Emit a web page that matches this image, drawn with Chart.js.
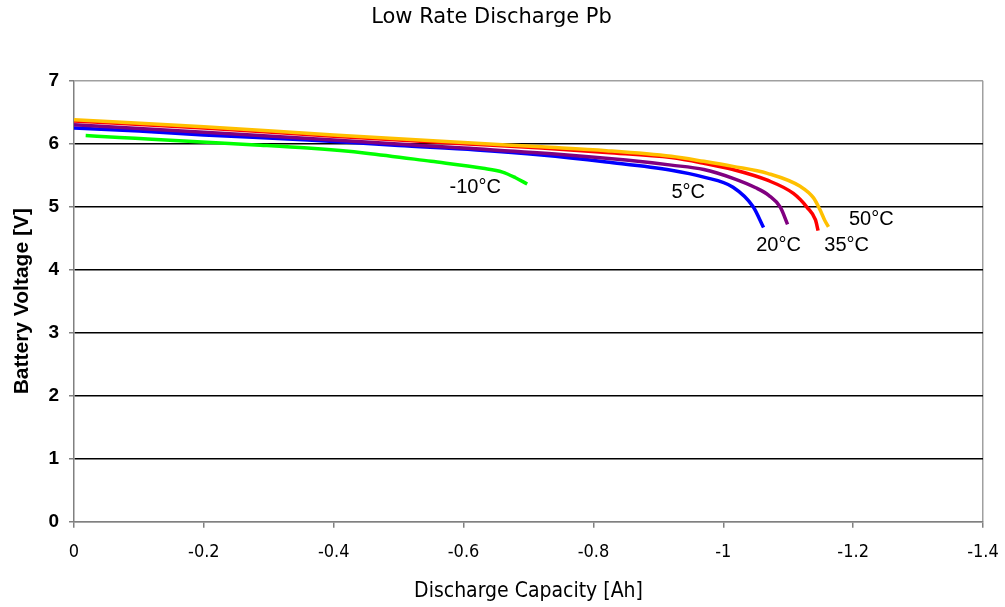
<!DOCTYPE html>
<html>
<head>
<meta charset="utf-8">
<script src="https://cdn.jsdelivr.net/npm/chart.js@4.4.1/dist/chart.umd.min.js"></script>
<style>
  html, body { margin: 0; padding: 0; background: #ffffff; }
  #wrap { width: 1005px; height: 607px; position: relative; }
</style>
</head>
<body>
<div id="wrap"><canvas id="c" width="1005" height="607"></canvas></div>
<script>
// ---- Data (discharge capacity in Ah, voltage in V) ----
const cap50 = [0, -0.2, -0.4, -0.6, -0.72, -0.82, -0.92, -0.97, -1.015, -1.068, -1.119, -1.139, -1.149, -1.156, -1.162];
const volt50 = [6.38, 6.27, 6.14, 6.02, 5.95, 5.89, 5.80, 5.72, 5.64, 5.53, 5.32, 5.14, 4.95, 4.79, 4.68];

const cap35 = [0, -0.2, -0.4, -0.6, -0.72, -0.82, -0.92, -0.97, -1.015, -1.068, -1.108, -1.129, -1.142, -1.146];
const volt35 = [6.36, 6.25, 6.12, 6.00, 5.93, 5.86, 5.78, 5.69, 5.59, 5.42, 5.21, 4.99, 4.79, 4.62];

const cap20 = [0, -0.2, -0.4, -0.6, -0.75, -0.85, -0.92, -0.97, -1.015, -1.05, -1.07, -1.088, -1.099];
const volt20 = [6.30, 6.18, 6.06, 5.93, 5.83, 5.74, 5.66, 5.59, 5.45, 5.30, 5.18, 4.99, 4.72];

const cap5 = [0, -0.1, -0.2, -0.36, -0.5, -0.62, -0.72, -0.82, -0.92, -0.97, -1.015, -1.046, -1.062];
const volt5 = [6.25, 6.20, 6.14, 6.06, 5.97, 5.90, 5.82, 5.71, 5.58, 5.47, 5.31, 5.00, 4.67];

const capM10 = [-0.018, -0.07, -0.12, -0.19, -0.28, -0.36, -0.45, -0.55, -0.63, -0.66, -0.68, -0.698];
const voltM10 = [6.13, 6.10, 6.07, 6.03, 5.98, 5.93, 5.85, 5.72, 5.61, 5.55, 5.46, 5.36];

const seriesNames = ['50°C', '35°C', '20°C', '5°C', '-10°C'];
const xTickValues = [0, -0.2, -0.4, -0.6, -0.8, -1, -1.2, -1.4];
const yTickValues = [0, 1, 2, 3, 4, 5, 6, 7];

// curve labels (text, capacity, voltage)
const labelText = ['-10°C', '5°C', '20°C', '35°C', '50°C'];
const labelCap = [-0.618, -0.946, -1.085, -1.190, -1.228];
const labelVolt = [5.30, 5.22, 4.38, 4.38, 4.79];

function pts(xs, ys) { return xs.map((x, i) => ({ x: x, y: ys[i] })); }

const colors = ['#FFC000', '#FF0000', '#800080', '#0000FF', '#00FF00'];
const caps = [cap50, cap35, cap20, cap5, capM10];
const volts = [volt50, volt35, volt20, volt5, voltM10];

const datasets = seriesNames.map((n, i) => ({
  label: n,
  data: pts(caps[i], volts[i]),
  borderColor: colors[i],
  backgroundColor: colors[i],
  borderWidth: 3.5,
  pointRadius: 0,
  fill: false,
  cubicInterpolationMode: 'monotone',
  order: i
}));

const curveLabels = {
  id: 'curveLabels',
  afterDatasetsDraw(chart) {
    const ctx = chart.ctx;
    const xs = chart.scales.x, ys = chart.scales.y;
    ctx.save();
    ctx.fillStyle = '#000000';
    ctx.font = '20px "Liberation Sans", Arial, sans-serif';
    ctx.textAlign = 'center';
    ctx.textBaseline = 'middle';
    labelText.forEach((t, i) => {
      ctx.fillText(t, xs.getPixelForValue(labelCap[i]), ys.getPixelForValue(labelVolt[i]));
    });
    ctx.restore();
  }
};

new Chart(document.getElementById('c'), {
  type: 'line',
  data: { datasets: datasets },
  plugins: [curveLabels],
  options: {
    responsive: false,
    animation: false,
    layout: { padding: { left: 0, right: 22, top: 0, bottom: 0 } },
    plugins: {
      legend: { display: false },
      tooltip: { enabled: false },
      title: {
        display: true,
        text: 'Low Rate Discharge Pb',
        color: '#000000',
        font: { family: '"DejaVu Sans", sans-serif', size: 21, weight: 'normal', lineHeight: 1.2 },
        padding: { top: 5, bottom: 50.5 }
      }
    },
    scales: {
      x: {
        type: 'linear',
        reverse: true,
        min: -1.4,
        max: 0,
        afterFit(scale) { scale.height = 85.3; scale.paddingLeft = 0; scale.paddingRight = 0; },
        afterBuildTicks(scale) { scale.ticks = xTickValues.map(v => ({ value: v })); },
        ticks: {
          color: '#000000',
          font: { family: '"Liberation Sans Narrow", "DejaVu Sans Condensed", sans-serif', size: 18 },
          padding: 14,
          maxRotation: 0,
          autoSkip: false,
          callback: v => (Math.abs(v) < 1e-9 ? '0' : String(Number(v.toFixed(1))))
        },
        grid: {
          drawOnChartArea: true,
          tickLength: 6,
          color: ctx => (ctx.tick && Math.abs(ctx.tick.value + 1.4) < 1e-6 ? '#a0a0a0' : 'rgba(0,0,0,0)'),
          tickColor: '#808080',
          lineWidth: 1.5
        },
        border: { display: true, color: '#808080', width: 1.5 },
        title: {
          display: true,
          text: 'Discharge Capacity [Ah]',
          color: '#000000',
          font: { family: '"Liberation Sans Narrow", "DejaVu Sans Condensed", sans-serif', size: 21 },
          padding: { top: 0, bottom: 2.4 }
        }
      },
      y: {
        type: 'linear',
        min: 0,
        max: 7,
        afterFit(scale) { scale.width = 74; scale.paddingTop = 0; scale.paddingBottom = 0; },
        afterBuildTicks(scale) { scale.ticks = yTickValues.map(v => ({ value: v })); },
        ticks: {
          color: '#000000',
          font: { family: '"Liberation Sans", Arial, sans-serif', size: 19, weight: 'bold' },
          padding: 10
        },
        grid: {
          tickLength: 5,
          color: ctx => {
            const v = ctx.tick ? ctx.tick.value : -1;
            return (v === 0 || v === 7) ? '#a0a0a0' : '#000000';
          },
          tickColor: '#808080',
          lineWidth: 1.5
        },
        border: { display: true, color: '#808080', width: 1.5 },
        title: {
          display: true,
          text: 'Battery Voltage [V]',
          color: '#000000',
          font: { family: '"Liberation Sans", Arial, sans-serif', size: 21, weight: 'bold', lineHeight: 1.2 },
          padding: { top: 9.4, bottom: 0 }
        }
      }
    }
  }
});
</script>
</body>
</html>
